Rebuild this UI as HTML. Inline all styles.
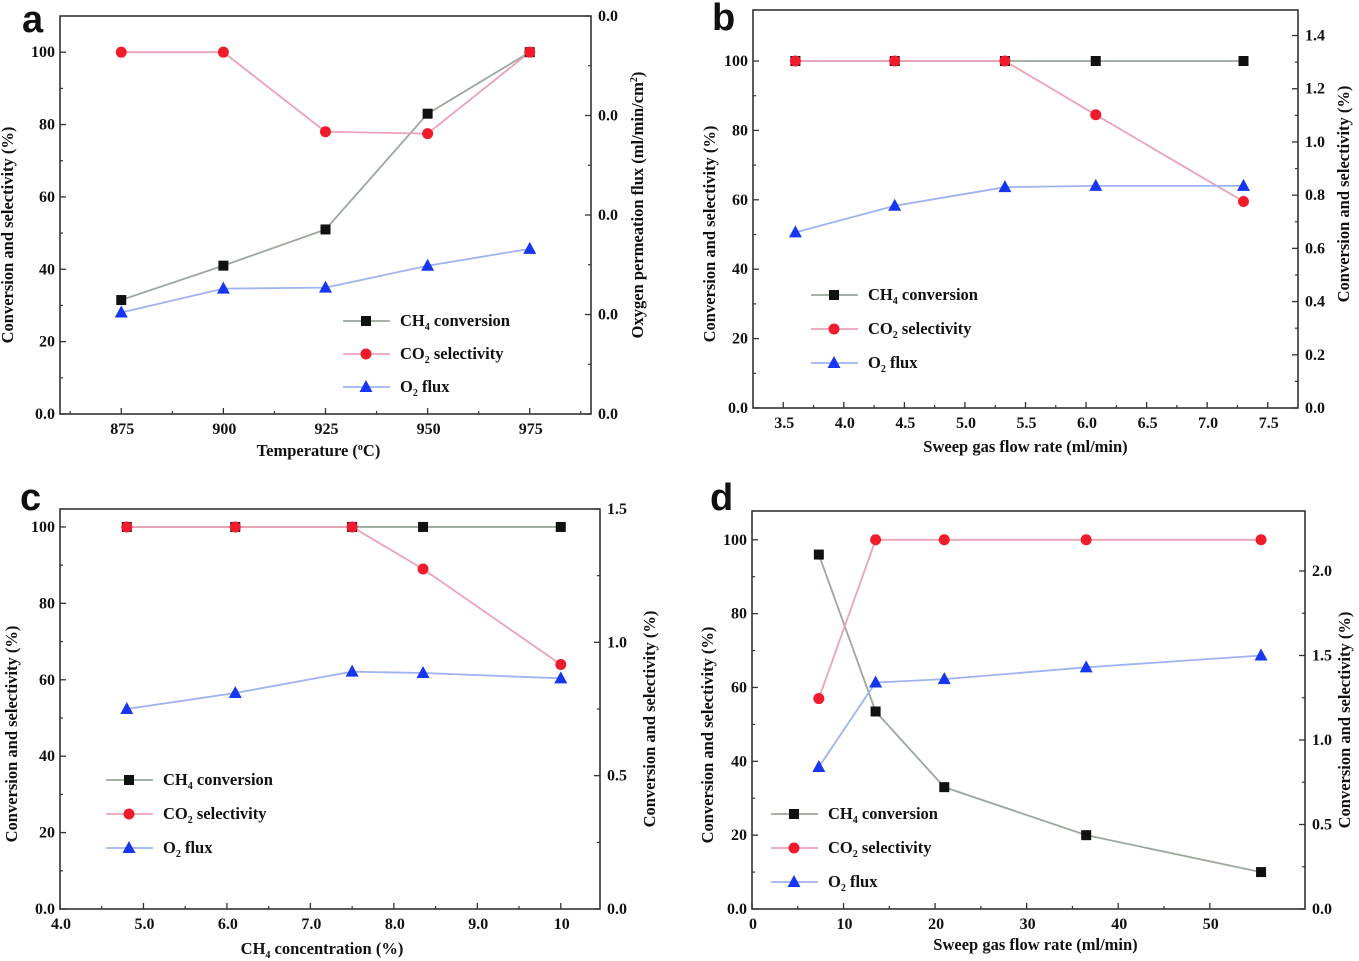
<!DOCTYPE html>
<html><head><meta charset="utf-8"><style>
html,body{margin:0;padding:0;background:#fff;}
svg{display:block;font-family:"Liberation Serif",serif;font-weight:bold;}
</style></head><body>
<svg id="fig" width="1359" height="961" viewBox="0 0 1359 961" xmlns="http://www.w3.org/2000/svg"></svg>
<script>
// ---- Panel a data ----
const aX = [875, 900, 925, 950, 975];
const aCH4 = [31.5, 41, 51, 83, 100];
const aCO2 = [100, 100, 78, 77.5, 100];
const aO2 = [1.02, 1.26, 1.27, 1.49, 1.66];
const aXTicks = [875, 900, 925, 950, 975];
const aYTicks = [0, 20, 40, 60, 80, 100];
const aYLabels = ["0.0", "20", "40", "60", "80", "100"];
const aRTicks = [0, 1, 2, 3, 4];
const aRLabels = ["0.0", "0.0", "0.0", "0.0", "0.0"];
// ---- Panel b data ----
const bX = [3.6, 4.42, 5.33, 6.08, 7.3];
const bCH4 = [100, 100, 100, 100, 100];
const bCO2 = [100, 100, 100, 84.5, 59.5];
const bO2 = [0.66, 0.76, 0.83, 0.835, 0.835];
const bXTicks = [3.5, 4.0, 4.5, 5.0, 5.5, 6.0, 6.5, 7.0, 7.5];
const bXLabels = ["3.5", "4.0", "4.5", "5.0", "5.5", "6.0", "6.5", "7.0", "7.5"];
const bYTicks = [0, 20, 40, 60, 80, 100];
const bYLabels = ["0.0", "20", "40", "60", "80", "100"];
const bRTicks = [0, 0.2, 0.4, 0.6, 0.8, 1.0, 1.2, 1.4];
const bRLabels = ["0.0", "0.2", "0.4", "0.6", "0.8", "1.0", "1.2", "1.4"];
// ---- Panel c data ----
const cX = [4.8, 6.1, 7.5, 8.35, 10];
const cCH4 = [100, 100, 100, 100, 100];
const cCO2 = [100, 100, 100, 89, 64];
const cO2 = [0.75, 0.81, 0.89, 0.885, 0.865];
const cXTicks = [4, 5, 6, 7, 8, 9, 10];
const cXLabels = ["4.0", "5.0", "6.0", "7.0", "8.0", "9.0", "10"];
const cYTicks = [0, 20, 40, 60, 80, 100];
const cYLabels = ["0.0", "20", "40", "60", "80", "100"];
const cRTicks = [0, 0.5, 1.0, 1.5];
const cRLabels = ["0.0", "0.5", "1.0", "1.5"];
// ---- Panel d data ----
const dX = [7.3, 13.5, 21, 36.5, 55.6];
const dCH4 = [96, 53.5, 33, 20, 10];
const dCO2 = [57, 100, 100, 100, 100];
const dO2 = [0.84, 1.34, 1.36, 1.43, 1.50];
const dXTicks = [0, 10, 20, 30, 40, 50];
const dXLabels = ["0", "10", "20", "30", "40", "50"];
const dYTicks = [0, 20, 40, 60, 80, 100];
const dYLabels = ["0.0", "20", "40", "60", "80", "100"];
const dRTicks = [0, 0.5, 1.0, 1.5, 2.0];
const dRLabels = ["0.0", "0.5", "1.0", "1.5", "2.0"];

const NS = "http://www.w3.org/2000/svg";
const svg = document.getElementById("fig");
function mk(tag, attrs, parent) {
  const e = document.createElementNS(NS, tag);
  for (const k in attrs) e.setAttribute(k, attrs[k]);
  (parent || svg).appendChild(e);
  return e;
}
function txt(parent, x, y, s, size, anchor, rot) {
  const t = mk("text", {x: x, y: y, "font-size": size, "text-anchor": anchor || "middle", fill: "#111"}, parent);
  if (rot) t.setAttribute("transform", "rotate(" + rot + " " + x + " " + y + ")");
  t.innerHTML = s;
  return t;
}
const COL = {ch4l: "#9ca89c", ch4m: "#111", co2l: "#eba3b6", co2m: "#f01c2c", o2l: "#9fb2f2", o2m: "#1636f2"};

function panel(p) {
  const g = mk("g", {});
  
  
  const L = p.L, R = p.R, T = p.T, B = p.B;
  const sx = v => L + (v - p.xmin) / (p.xmax - p.xmin) * (R - L);
  const sy = v => B - (v - p.ymin) / (p.ymax - p.ymin) * (B - T);
  const sr = v => B - (v - p.rmin) / (p.rmax - p.rmin) * (B - T);
  const fr = mk("rect", {x: L, y: T, width: R - L, height: B - T, fill: "none", stroke: "#333", "stroke-width": 1.6}, g);
  
  
  p.xTicks.forEach((v, i) => {
    const x = sx(v);
    mk("line", {x1: x, x2: x, y1: B, y2: B - 6, stroke: "#333", "stroke-width": 1.3}, g);
    const t = txt(g, x + 1, B + 20, p.xLabels[i], 16);
    
    
    if (i < p.xTicks.length - 1) {
      const m = sx((v + p.xTicks[i + 1]) / 2);
      mk("line", {x1: m, x2: m, y1: B, y2: B - 3, stroke: "#333", "stroke-width": 1.2}, g);
    }
  });
  if (p.xExtraMinor) p.xExtraMinor.forEach(v => { const m = sx(v); mk("line", {x1: m, x2: m, y1: B, y2: B - 3, stroke: "#333", "stroke-width": 1.2}, g); });
  p.yTicks.forEach((v, i) => {
    const y = sy(v);
    mk("line", {x1: L, x2: L + 6, y1: y, y2: y, stroke: "#333", "stroke-width": 1.3}, g);
    const t = txt(g, L - 5, y + 5, p.yLabels[i], 16, "end");
    
    
    if (i < p.yTicks.length - 1) {
      const m = sy((v + p.yTicks[i + 1]) / 2);
      mk("line", {x1: L, x2: L + 3, y1: m, y2: m, stroke: "#333", "stroke-width": 1.2}, g);
    }
  });
  p.rTicks.forEach((v, i) => {
    const y = sr(v);
    mk("line", {x1: R, x2: R - 6, y1: y, y2: y, stroke: "#333", "stroke-width": 1.3}, g);
    const t = txt(g, R + 7, y + 5, p.rLabels[i], 16, "start");
    
    
    if (i < p.rTicks.length - 1) {
      const m = sr((v + p.rTicks[i + 1]) / 2);
      mk("line", {x1: R, x2: R - 3, y1: m, y2: m, stroke: "#333", "stroke-width": 1.2}, g);
    }
  });
  const xt = txt(g, (L + R) / 2 + p.xtOff, p.xtY, p.xTitle, 16.5);
  
  
  const yt = txt(g, p.ytX, (T + B) / 2 + p.ytOff, "Conversion and selectivity (%)", 16.5, "middle", -90);
  
  
  const rt = txt(g, p.rtX, (T + B) / 2 + p.rtOff, p.rTitle, 16.5, "middle", -90);
  
  
  const lt = mk("text", {x: p.letX, y: p.letY, "font-size": 38, "font-family": "Liberation Sans, sans-serif", "font-weight": "bold", fill: "#111"}, g);
  lt.textContent = p.id;
  
  
  const series = [
    {name: "ch4", vals: p.ch4, f: sy, lc: COL.ch4l, mc: COL.ch4m, m: "sq"},
    {name: "co2", vals: p.co2, f: sy, lc: COL.co2l, mc: COL.co2m, m: "ci"},
    {name: "o2", vals: p.o2, f: sr, lc: COL.o2l, mc: COL.o2m, m: "tr"}
  ];
  function marker(type, x, y, c, parent) {
    let e;
    if (type === "sq") e = mk("rect", {x: x - 5, y: y - 5, width: 10, height: 10, fill: c}, parent);
    else if (type === "ci") e = mk("circle", {cx: x, cy: y, r: 5.5, fill: c}, parent);
    else e = mk("polygon", {points: (x) + "," + (y - 7) + " " + (x - 6.5) + "," + (y + 5) + " " + (x + 6.5) + "," + (y + 5), fill: c}, parent);
    return e;
  }
  series.forEach(s => {
    const pts = p.x.map((xv, i) => sx(xv) + "," + s.f(s.vals[i])).join(" ");
    const pl = mk("polyline", {points: pts, fill: "none", stroke: s.lc, "stroke-width": 1.8}, g);
    
    
  });
  series.forEach(s => {
    p.x.forEach((xv, i) => {
      const m = marker(s.m, sx(xv), s.f(s.vals[i]), s.mc, g);
      
      
    });
  });
  const labels = ["CH<tspan font-size='10' dy='4'>4</tspan><tspan dy='-4'> conversion</tspan>",
                  "CO<tspan font-size='10' dy='4'>2</tspan><tspan dy='-4'> selectivity</tspan>",
                  "O<tspan font-size='10' dy='4'>2</tspan><tspan dy='-4'> flux</tspan>"];
  series.forEach((s, i) => {
    const y = p.legY + i * p.legDy;
    const lg = mk("g", {}, g);
    
    
    mk("line", {x1: p.legX, x2: p.legX + 47, y1: y, y2: y, stroke: s.lc, "stroke-width": 1.8}, lg);
    marker(s.m, p.legX + 23, y, s.mc, lg);
    txt(lg, p.legX + 57, y + 5, labels[i], 16.5, "start");
  });
}

panel({id: "a", L: 60, R: 591, T: 16, B: 414, xmin: 860, xmax: 990, ymin: 0, ymax: 110, rmin: 0, rmax: 4,
  x: aX, ch4: aCH4, co2: aCO2, o2: aO2, xTicks: aXTicks, xLabels: aXTicks.map(String), xExtraMinor: [862.5, 987.5],
  yTicks: aYTicks, yLabels: aYLabels, rTicks: aRTicks, rLabels: aRLabels,
  xTitle: "Temperature (<tspan font-size='10' dy='-6'>o</tspan><tspan dy='6'>C)</tspan>", xtY: 456, xtOff: -7, ytX: 13, ytOff: 20,
  rTitle: "Oxygen permeation flux (ml/min/cm<tspan font-size='10' dy='-6'>2</tspan><tspan dy='6'>)</tspan>", rtX: 643, rtOff: -10,
  letX: 22, letY: 32, legX: 343, legY: 321, legDy: 33});
panel({id: "b", L: 753, R: 1298, T: 10, B: 408, xmin: 3.25, xmax: 7.75, ymin: 0, ymax: 114.7, rmin: 0, rmax: 1.496,
  x: bX, ch4: bCH4, co2: bCO2, o2: bO2, xTicks: bXTicks, xLabels: bXLabels,
  yTicks: bYTicks, yLabels: bYLabels, rTicks: bRTicks, rLabels: bRLabels,
  xTitle: "Sweep gas flow rate (ml/min)", xtY: 452, xtOff: 0, ytX: 715, ytOff: 25,
  rTitle: "Conversion and selectivity (%)", rtX: 1349, rtOff: -15,
  letX: 712, letY: 30, legX: 811, legY: 295, legDy: 34});
panel({id: "c", L: 60, R: 600, T: 509, B: 909, xmin: 4.0, xmax: 10.47, ymin: 0, ymax: 104.7, rmin: 0, rmax: 1.5,
  x: cX, ch4: cCH4, co2: cCO2, o2: cO2, xTicks: cXTicks, xLabels: cXLabels,
  yTicks: cYTicks, yLabels: cYLabels, rTicks: cRTicks, rLabels: cRLabels,
  xTitle: "CH<tspan font-size='10' dy='4'>4</tspan><tspan dy='-4'> concentration (%)</tspan>", xtY: 954, xtOff: -8, ytX: 17, ytOff: 25,
  rTitle: "Conversion and selectivity (%)", rtX: 655, rtOff: 10,
  letX: 20, letY: 510, legX: 106, legY: 780, legDy: 34});
panel({id: "d", L: 752, R: 1305, T: 511, B: 909, xmin: 0, xmax: 60.4, ymin: 0, ymax: 107.8, rmin: 0, rmax: 2.355,
  x: dX, ch4: dCH4, co2: dCO2, o2: dO2, xTicks: dXTicks, xLabels: dXLabels,
  yTicks: dYTicks, yLabels: dYLabels, rTicks: dRTicks, rLabels: dRLabels,
  xTitle: "Sweep gas flow rate (ml/min)", xtY: 950, xtOff: 7, ytX: 713, ytOff: 25,
  rTitle: "Conversion and selectivity (%)", rtX: 1350, rtOff: 10,
  letX: 710, letY: 510, legX: 771, legY: 814, legDy: 34});
</script>
</body></html>
